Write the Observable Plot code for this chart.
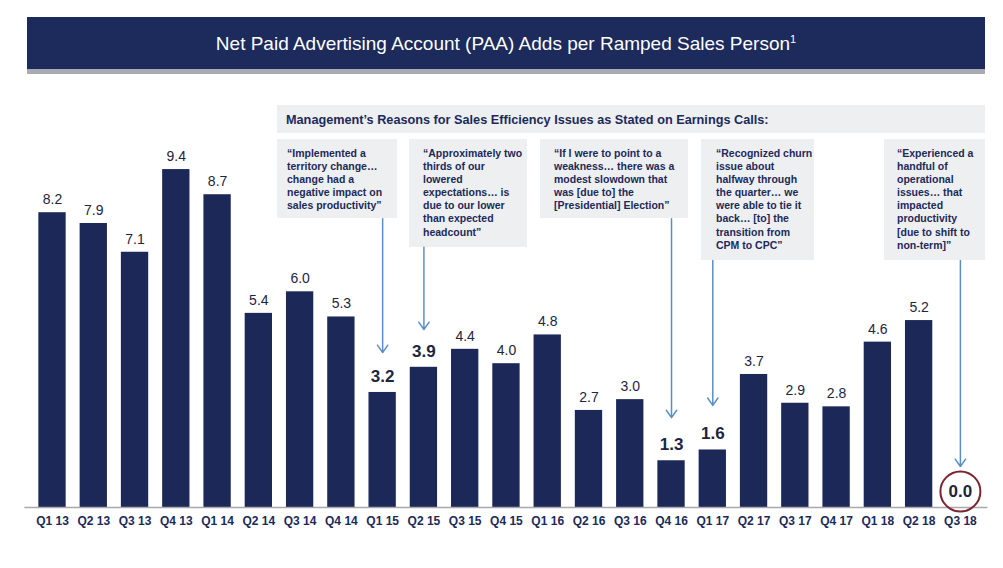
<!DOCTYPE html>
<html><head><meta charset="utf-8">
<script src="https://cdn.jsdelivr.net/npm/d3@7"></script>
<script src="https://cdn.jsdelivr.net/npm/@observablehq/plot@0.6"></script>
<style>
body{margin:0;background:#fff;font-family:"Liberation Sans",Arial,sans-serif;}
#root{position:relative;width:1003px;height:568px;overflow:hidden;}
.banner{position:absolute;left:27px;top:17px;width:958px;height:52px;background:#1c2a5c;color:#fff;font-size:19px;text-align:center;line-height:54px;}
.banner sup{font-size:11px;line-height:0;position:relative;top:0px;}
.stripe{position:absolute;left:27px;top:69px;width:958px;height:5px;background:#a9abb2;}
.head{position:absolute;left:277px;top:105px;width:708px;height:28px;background:#eeeff1;color:#1c2a5a;font-weight:bold;font-size:12.7px;line-height:31px;padding-left:9px;box-sizing:border-box;white-space:nowrap;}
.quote{position:absolute;background:#eeeff1;color:#1c2a5a;font-weight:bold;font-size:10.5px;line-height:13.1px;box-sizing:border-box;padding-top:8px;white-space:pre;}
#chart{position:absolute;left:0;top:0;}
#chart svg [aria-label^="x-axis"] text{font-weight:bold;font-size:12px;fill:#1c2a5a;}
</style>
</head>
<body>
<div id="root">
  <div class="banner" id="title"></div>
  <div class="stripe"></div>
  <div class="head" id="head"></div>
  <div id="quotes"></div>
  <div id="chart"></div>
</div>
<script>
// ---- data ----
const quarters = ["Q1 13","Q2 13","Q3 13","Q4 13","Q1 14","Q2 14","Q3 14","Q4 14","Q1 15","Q2 15","Q3 15","Q4 15","Q1 16","Q2 16","Q3 16","Q4 16","Q1 17","Q2 17","Q3 17","Q4 17","Q1 18","Q2 18","Q3 18"];
const paaAdds = [8.2,7.9,7.1,9.4,8.7,5.4,6.0,5.3,3.2,3.9,4.4,4.0,4.8,2.7,3.0,1.3,1.6,3.7,2.9,2.8,4.6,5.2,0.0];
const emphasized = ["Q1 15","Q2 15","Q4 16","Q1 17","Q3 18"];
const circled = ["Q3 18"];
const titleText = "Net Paid Advertising Account (PAA) Adds per Ramped Sales Person";
const headText = "Management’s Reasons for Sales Efficiency Issues as Stated on Earnings Calls:";
const quoteTexts = [
  "“Implemented a\nterritory change…\nchange had a\nnegative impact on\nsales productivity”",
  "“Approximately two\nthirds of our\nlowered\nexpectations… is\ndue to our lower\nthan expected\nheadcount”",
  "“If I were to point to a\nweakness… there was a\nmodest slowdown that\nwas [due to] the\n[Presidential] Election”",
  "“Recognized churn\nissue about\nhalfway through\nthe quarter… we\nwere able to tie it\nback… [to] the\ntransition from\nCPM to CPC”",
  "“Experienced a\nhandful of\noperational\nissues… that\nimpacted\nproductivity\n[due to shift to\nnon-term]”"
];
const quoteTargets = ["Q1 15","Q2 15","Q4 16","Q1 17","Q3 18"];
// arrow start (box bottom) and tip, in chart value units
const arrowFrom = [8.03,7.24,8.03,6.87,6.87];
const arrowTo = [4.31,4.95,2.50,2.84,1.14];

// ---- layout (not data) ----
const boxLayout = [
  {left:277,top:139,width:120,height:79,pad:10},
  {left:409,top:139,width:118,height:108,pad:14},
  {left:540,top:139,width:148,height:79,pad:14},
  {left:701,top:139,width:113,height:121,pad:15},
  {left:884,top:139,width:101,height:121,pad:13}
];

document.getElementById("title").innerHTML = titleText + "<sup>1</sup>";
document.getElementById("head").textContent = headText;
const qc = document.getElementById("quotes");
quoteTexts.forEach((t,i)=>{
  const b = boxLayout[i];
  const d = document.createElement("div");
  d.className = "quote";
  Object.assign(d.style,{left:b.left+"px",top:b.top+"px",width:b.width+"px",height:b.height+"px",paddingLeft:b.pad+"px"});
  d.textContent = t;
  qc.appendChild(d);
});

const data = quarters.map((q,i)=>({q, v: paaAdds[i]}));
const normal = data.filter(d=>!emphasized.includes(d.q));
const strong = data.filter(d=>emphasized.includes(d.q));
const ring = data.filter(d=>circled.includes(d.q));
const arrows = quoteTargets.map((q,i)=>({q, from: arrowFrom[i], to: arrowTo[i]}));

const navy = "#1b2858";
const chart = Plot.plot({
  width: 1003,
  height: 568,
  marginLeft: 24.4,
  marginRight: 15.5,
  marginTop: 3.7,
  marginBottom: 61,
  style: {background:"transparent", fontFamily:"'Liberation Sans', Arial, sans-serif", color:"#1c2a5a", overflow:"visible"},
  x: {domain: quarters, padding: 0.338, round: false, label: null, tickSize: 0, tickPadding: 9},
  y: {domain: [0, 14], axis: null},
  marks: [
    Plot.barY(data, {x:"q", y:"v", fill: navy}),
    Plot.ruleY([0], {stroke:"#a7a9ae", strokeWidth:1.5}),
    Plot.text(normal, {x:"q", y:"v", text: d=>d.v.toFixed(1), dy:-13, fontSize:14, fill:"#1e2540"}),
    Plot.text(strong, {x:"q", y:"v", text: d=>d.v.toFixed(1), dy:-16, fontSize:17, fontWeight:"bold", fill:"#1e2540"}),
    Plot.dot(ring, {x:"q", y:"v", dy:-16, r:20, stroke:"#7d2431", strokeWidth:2, fill:"none"}),
    Plot.arrow(arrows, {x1:"q", x2:"q", y1:"from", y2:"to", stroke:"#5b8fc4", strokeWidth:1.5, headLength:9, headAngle:70})
  ]
});
document.getElementById("chart").appendChild(chart);
</script>
</body></html>
